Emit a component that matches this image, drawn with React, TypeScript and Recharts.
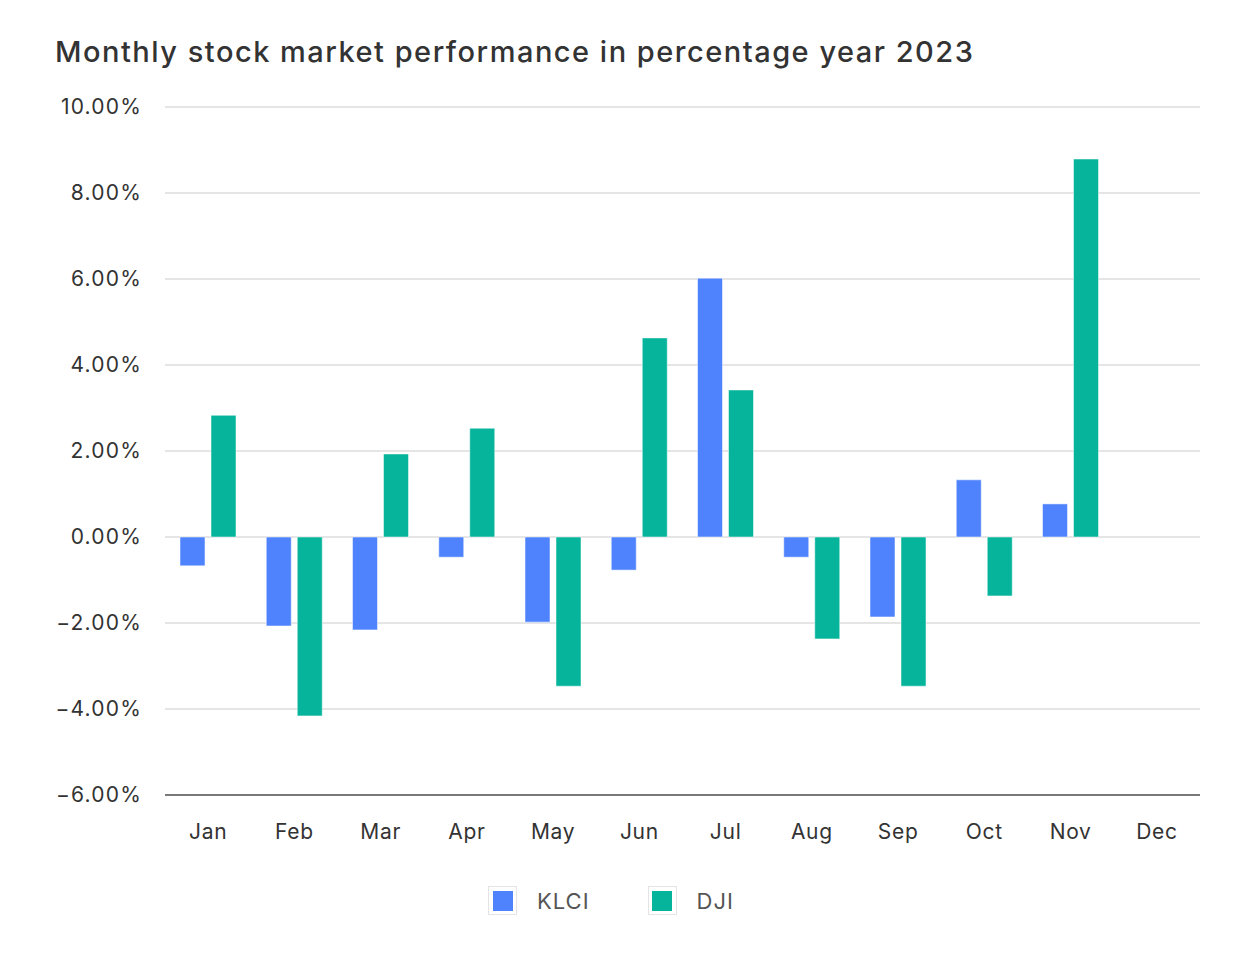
import { BarChart, Bar, XAxis, YAxis, CartesianGrid } from 'recharts'

const MONTHS = ['Jan', 'Feb', 'Mar', 'Apr', 'May', 'Jun', 'Jul', 'Aug', 'Sep', 'Oct', 'Nov', 'Dec']
const KLCI = [-0.67, -2.07, -2.16, -0.47, -1.98, -0.77, 6.02, -0.47, -1.86, 1.33, 0.77, null]
const DJI = [2.83, -4.16, 1.93, 2.53, -3.47, 4.63, 3.42, -2.37, -3.47, -1.37, 8.79, null]
const Y_TICKS = [-6, -4, -2, 0, 2, 4, 6, 8, 10]

const BLUE = '#4f83fd'
const GREEN = '#05b49b'
const FONT = 'Inter, "Noto Sans", sans-serif'

const data = MONTHS.map((m, i) => ({ month: m, KLCI: KLCI[i], DJI: DJI[i] }))

const fmt = (v: number) => (v < 0 ? '\u2212' : '') + Math.abs(v).toFixed(2) + '%'

function LegendItem({ color, label }: { color: string; label: string }) {
  return (
    <div style={{ display: 'flex', alignItems: 'center', gap: 20 }}>
      <div style={{ width: 27, height: 27, border: '1px solid #e4e4e4', display: 'flex', alignItems: 'center', justifyContent: 'center' }}>
        <div style={{ width: 20, height: 20, background: color }} />
      </div>
      <span style={{ fontSize: 22, color: '#555', letterSpacing: 1 }}>{label}</span>
    </div>
  )
}

export default function App() {
  return (
    <div style={{ position: 'absolute', left: 0, top: 0, width: 1254, height: 966, background: '#fff', fontFamily: FONT }}>
      <div style={{ position: 'absolute', left: 55, top: 34, fontSize: 29, fontWeight: 500, color: '#333', letterSpacing: 1.5 }}>
        Monthly stock market performance in percentage year 2023
      </div>
      <BarChart
        width={1254}
        height={966}
        data={data}
        margin={{ top: 107, right: 54, bottom: 111, left: 65 }}
        barCategoryGap={15}
        barGap={6}
      >
        <CartesianGrid vertical={false} stroke="#dcdcdc" strokeWidth={1.5} />
        <XAxis
          dataKey="month"
          height={60}
          tickLine={false}
          tickMargin={23}
          axisLine={{ stroke: '#555', strokeWidth: 1.5 }}
          tick={{ fill: '#333', fontSize: 21, fontFamily: FONT, letterSpacing: 0.7 }}
        />
        <YAxis
          width={100}
          domain={[-6, 10]}
          ticks={Y_TICKS}
          tickFormatter={fmt}
          axisLine={false}
          tickLine={false}
          tickMargin={17}
          tick={{ fill: '#333', fontSize: 21, fontFamily: FONT, letterSpacing: 1.2 }}
        />
        <Bar dataKey="KLCI" fill={BLUE} stroke="#fff" strokeOpacity={0.5} isAnimationActive={false} />
        <Bar dataKey="DJI" fill={GREEN} stroke="#fff" strokeOpacity={0.5} isAnimationActive={false} />
      </BarChart>
      <div style={{ position: 'absolute', top: 886, left: 488, display: 'flex', gap: 58 }}>
        <LegendItem color={BLUE} label="KLCI" />
        <LegendItem color={GREEN} label="DJI" />
      </div>
    </div>
  )
}
